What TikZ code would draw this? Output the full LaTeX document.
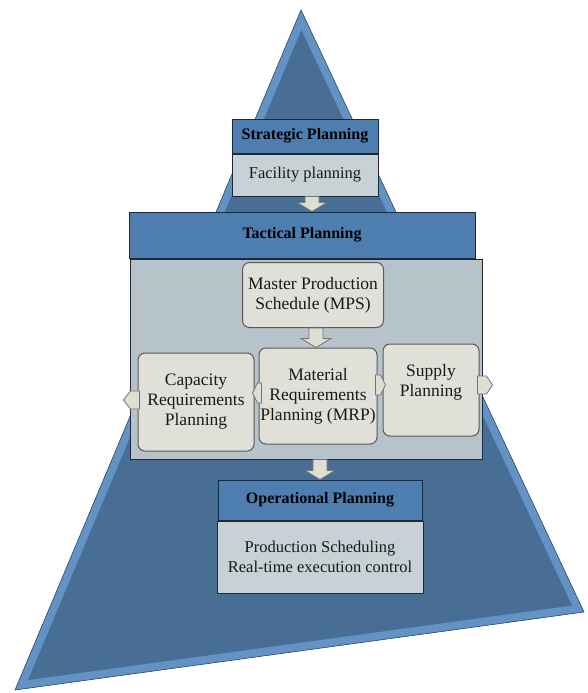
\documentclass[tikz,border=0pt]{standalone}
\usepackage{fontspec}
\setmainfont{Liberation Serif}
\usetikzlibrary{calc}
\definecolor{pyrout}{HTML}{6393C4}
\definecolor{pyrin}{HTML}{486E95}
\definecolor{hdrfill}{HTML}{4E7DB0}
\definecolor{bodyfill}{HTML}{C7D1D6}
\definecolor{tacfill}{HTML}{B6C3CA}
\definecolor{inboxfill}{HTML}{E0E0D9}
\definecolor{arrfill}{HTML}{DEDFD4}
\definecolor{edge}{HTML}{1F2933}
\tikzset{
  hdr/.style={draw=edge, line width=1pt, fill=hdrfill, inner sep=0pt, font=\bfseries\fontsize{16}{18}\selectfont, text=black},
  bodybox/.style={draw=edge, line width=1pt, fill=bodyfill, inner sep=0pt, align=center, font=\fontsize{16.5}{20}\selectfont, text=black!90},
  tacbody/.style={draw=edge, line width=1pt, fill=tacfill, inner sep=0pt},
  inbox/.style={draw=black!65, line width=1pt, fill=inboxfill, rounded corners=7pt, inner sep=0pt, align=center, font=\fontsize{17.5}{20}\selectfont, text=black!90},
  barrow/.style={draw=black!55, line width=0.8pt, fill=arrfill},
}
\begin{document}
\begin{tikzpicture}[x=1pt,y=-1pt]
\useasboundingbox (0,0) rectangle (587,693);
% pyramid
\coordinate (pa) at (301,10);
\coordinate (pb) at (15,690);
\coordinate (pc) at (584,612);
\fill[pyrin] (pa) -- (pb) -- (pc) -- cycle;
\begin{scope}
\clip (pa) -- (pb) -- (pc) -- cycle;
\draw[pyrout, line width=16pt, line join=miter] (pa) -- (pb) -- (pc) -- cycle;
\end{scope}
\draw[pyrin!70!black, line width=0.6pt] (pa) -- (pb) -- (pc) -- cycle;
% strategic
\node[hdr, minimum width=146pt, minimum height=34pt] (strh) at (305,136) {Strategic Planning};
\node[bodybox, minimum width=146pt, minimum height=42pt, anchor=north] (fac) at (strh.south) {Facility planning};
% tactical
\node[hdr, minimum width=346pt, minimum height=46pt] (tach) at (302,235) {Tactical Planning};
\node[tacbody, minimum width=352pt, minimum height=200pt, anchor=north] (tacb) at ($(tach.south)+(4,0)$) {};
\node[inbox, minimum width=141pt, minimum height=65pt] (mps) at (313,295) {Master Production\\Schedule (MPS)};
\node[inbox, minimum width=116pt, minimum height=98pt] (crp) at (196,402) {Capacity\\Requirements\\Planning};
\node[inbox, minimum width=118pt, minimum height=96pt] (mrp) at (318,396) {Material\\Requirements\\Planning (MRP)};
\node[inbox, minimum width=96pt, minimum height=92pt, text depth=20pt] (sup) at (431,390) {Supply\\Planning};
% operational
\node[hdr, minimum width=204pt, minimum height=40pt] (oph) at (320,500) {Operational Planning};
\node[bodybox, minimum width=206pt, minimum height=72pt, anchor=north] (opb) at (oph.south) {Production Scheduling\\Real-time execution control};
% block arrows (down)
\newcommand{\blockdown}[3]{%
  \draw[barrow] let \p1=(#1), \p2=(#2) in
    ({#3-7pt},\y1) -- ({#3+7pt},\y1) -- ({#3+7pt},{\y2+9pt}) -- ({#3+15pt},{\y2+9pt})
    -- (#3,\y2) -- ({#3-15pt},{\y2+9pt}) -- ({#3-7pt},{\y2+9pt}) -- cycle;}
\blockdown{fac.south}{tach.north}{312pt}
\blockdown{mps.south}{mrp.north}{316pt}
\blockdown{tacb.south}{oph.north}{320pt}
% small side arrows
\coordinate (l1) at ($(crp.west)+(0,-2)$);
\draw[barrow] ($(l1)+(2,-9)$) -- ($(l1)+(-7,-9)$) -- ($(l1)+(-14,0)$) -- ($(l1)+(-7,9)$) -- ($(l1)+(2,9)$) -- cycle;
\coordinate (l2) at ($(mrp.west)+(0,-3)$);
\draw[barrow] ($(l2)+(3,-10)$) -- ($(l2)+(-1,-10)$) -- ($(l2)+(-6,0)$) -- ($(l2)+(-1,10)$) -- ($(l2)+(3,10)$) -- cycle;
\coordinate (r1) at ($(mrp.east)+(0,-11)$);
\draw[barrow] ($(r1)+(-2,-10)$) -- ($(r1)+(3,-10)$) -- ($(r1)+(8,0)$) -- ($(r1)+(3,10)$) -- ($(r1)+(-2,10)$) -- cycle;
\coordinate (r2) at ($(sup.east)+(0,-5)$);
\draw[barrow] ($(r2)+(-2,-9)$) -- ($(r2)+(7,-9)$) -- ($(r2)+(13,0)$) -- ($(r2)+(7,9)$) -- ($(r2)+(-2,9)$) -- cycle;
\end{tikzpicture}
\end{document}
